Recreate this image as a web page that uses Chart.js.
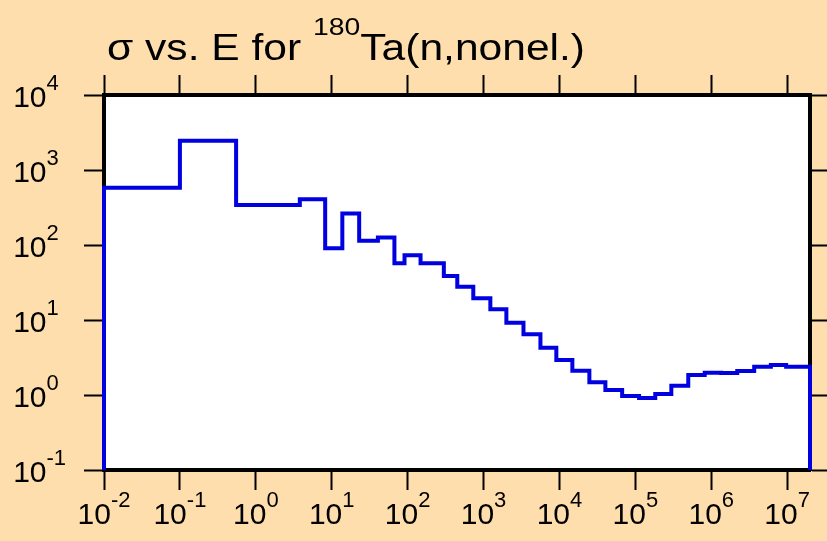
<!DOCTYPE html>
<html>
<head>
<meta charset="utf-8">
<script src="https://cdn.jsdelivr.net/npm/chart.js@4"></script>
<style>
  html, body { margin: 0; padding: 0; background: #FFDEAD; }
  #wrap { width: 827px; height: 541px; }
</style>
</head>
<body>
<div id="wrap"><canvas id="c" width="827" height="541"></canvas></div>
<script>
// Bin edges (energy, eV) and cross-section values (b) for each bin
const binEdges = [0.01, 0.1, 0.55, 3.8, 8.2, 13.8, 23, 40.6, 67, 91, 148, 300, 451, 733, 1230, 2000, 3360, 5620, 9100, 14800, 24800, 40300, 67000, 112000, 183000, 298000, 498000, 820000, 1.35e6, 2.2e6, 3.68e6, 6.1e6, 9.7e6, 2e7];
const sigmaValues = [580, 2460, 341, 406, 90.3, 263, 114, 126, 57, 72.8, 57, 38.6, 27.8, 19.5, 13.9, 9.2, 6.45, 4.27, 2.93, 2.11, 1.48, 1.17, 0.97, 0.91, 1.03, 1.33, 1.85, 1.98, 1.97, 2.09, 2.38, 2.51, 2.38];
const xTickExps = [-2, -1, 0, 1, 2, 3, 4, 5, 6, 7];
const yTickExps = [-1, 0, 1, 2, 3, 4];
const xMin = 0.01, xMax = 2e7, yMin = 0.1, yMax = 1e4;
const titleParts = { before: 'σ vs. E for ', sup: '180', after: 'Ta(n,nonel.)' };

// step-histogram outline points
const pts = [{ x: binEdges[0], y: yMin }];
for (let i = 0; i < sigmaValues.length; i++) {
  pts.push({ x: binEdges[i], y: sigmaValues[i] });
  pts.push({ x: binEdges[i + 1], y: sigmaValues[i] });
}
pts.push({ x: binEdges[binEdges.length - 1], y: yMin });

const FONT = '"Liberation Sans", Arial, sans-serif';
const tickSet = exps => s => { s.ticks = exps.map(e => ({ value: Math.pow(10, e) })); };
const gridOpts = { drawOnChartArea: false, drawTicks: true, tickLength: 20, tickWidth: 2, tickColor: '#000' };
const borderOpts = { display: true, width: 4, color: '#000' };

const labelsPlugin = {
  id: 'supLabels',
  afterDraw(chart) {
    const ctx = chart.ctx;
    ctx.save();
    ctx.fillStyle = '#000';
    ctx.textBaseline = 'alphabetic';
    const baseF = '30px ' + FONT, expF = '22px ' + FONT;
    // x labels
    const xs = chart.scales.x;
    xTickExps.forEach(e => {
      const px = xs.getPixelForValue(Math.pow(10, e));
      ctx.font = baseF; const w1 = ctx.measureText('10').width;
      ctx.font = expF; const w2 = ctx.measureText(String(e)).width;
      const x0 = px - (w1 + w2) / 2;
      ctx.textAlign = 'left';
      ctx.font = baseF; ctx.fillText('10', x0, 524);
      ctx.font = expF; ctx.fillText(String(e), x0 + w1, 507);
    });
    // y labels
    const ys = chart.scales.y;
    yTickExps.forEach(e => {
      const py = ys.getPixelForValue(Math.pow(10, e));
      ctx.font = baseF; ctx.textAlign = 'right'; ctx.fillText('10', 46.5, py + 11.5);
      ctx.font = expF; ctx.textAlign = 'left'; ctx.fillText(String(e), 46.5, py - 5);
    });
    // title
    ctx.textAlign = 'left';
    const tF = '36px ' + FONT, sF = '24px ' + FONT;
    ctx.font = tF; const wa = ctx.measureText(titleParts.before).width;
    const wc = ctx.measureText(titleParts.after).width;
    ctx.font = sF; const wb = ctx.measureText(titleParts.sup).width;
    const sx = 478 / (wa + wb + wc);
    ctx.translate(107, 0);
    ctx.scale(sx, 1);
    let tx = 0;
    ctx.font = tF; ctx.fillText(titleParts.before, tx, 60);
    tx += wa;
    ctx.font = sF; ctx.fillText(titleParts.sup, tx, 35);
    tx += wb;
    ctx.font = tF; ctx.fillText(titleParts.after, tx, 60);
    ctx.restore();
  }
};

new Chart(document.getElementById('c'), {
  type: 'line',
  data: {
    datasets: [{
      data: pts,
      borderColor: '#0000e0',
      borderWidth: 4,
      pointRadius: 0,
      fill: false,
      tension: 0,
      clip: false
    }]
  },
  options: {
    responsive: false,
    animation: false,
    events: [],
    layout: { padding: 0 },
    plugins: { legend: { display: false }, title: { display: false }, tooltip: { enabled: false } },
    scales: {
      x: { type: 'logarithmic', position: 'bottom', min: xMin, max: xMax,
           afterBuildTicks: tickSet(xTickExps), ticks: { display: false },
           grid: gridOpts, border: borderOpts, afterFit: s => { s.height = 71; } },
      x2: { type: 'logarithmic', position: 'top', min: xMin, max: xMax,
           afterBuildTicks: tickSet(xTickExps), ticks: { display: false },
           grid: gridOpts, border: borderOpts, afterFit: s => { s.height = 95; } },
      y: { type: 'logarithmic', position: 'left', min: yMin, max: yMax,
           afterBuildTicks: tickSet(yTickExps), ticks: { display: false },
           grid: gridOpts, border: borderOpts, afterFit: s => { s.width = 104; } },
      y2: { type: 'logarithmic', position: 'right', min: yMin, max: yMax,
           afterBuildTicks: tickSet(yTickExps), ticks: { display: false },
           grid: gridOpts, border: borderOpts, afterFit: s => { s.width = 17; } }
    }
  },
  plugins: [{
    id: 'bg',
    beforeDraw(chart) {
      const { ctx, chartArea: a } = chart;
      ctx.save();
      ctx.fillStyle = '#FFDEAD';
      ctx.fillRect(0, 0, chart.width, chart.height);
      ctx.fillStyle = '#fff';
      ctx.fillRect(a.left, a.top, a.right - a.left, a.bottom - a.top);
      ctx.restore();
    }
  }, labelsPlugin]
});
</script>
</body>
</html>
